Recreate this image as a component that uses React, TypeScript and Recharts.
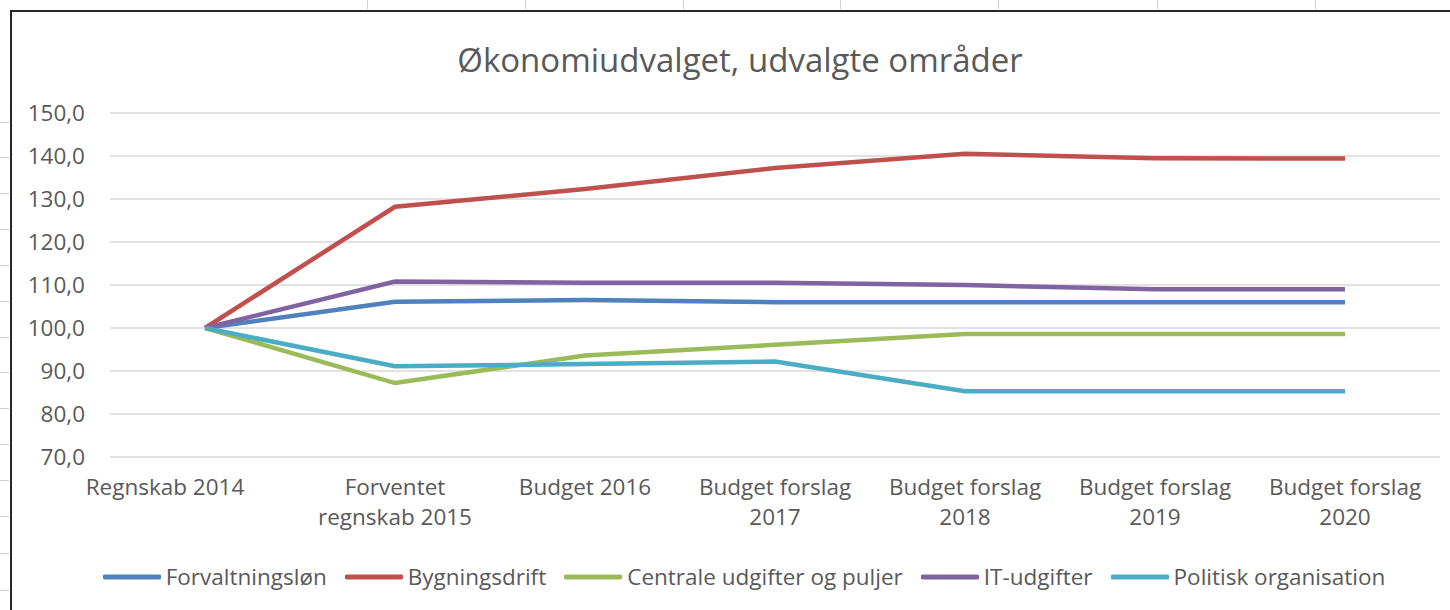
import React from 'react';
import { LineChart, Line, XAxis, YAxis, CartesianGrid, Legend } from 'recharts';

const categories = [
  'Regnskab 2014',
  'Forventet\nregnskab 2015',
  'Budget 2016',
  'Budget forslag\n2017',
  'Budget forslag\n2018',
  'Budget forslag\n2019',
  'Budget forslag\n2020',
];

const forvaltningslon = [100, 106.1, 106.5, 106.0, 106.0, 106.0, 106.0];
const bygningsdrift = [100, 128.2, 132.3, 137.2, 140.5, 139.5, 139.4];
const centrale = [100, 87.2, 93.6, 96.1, 98.6, 98.6, 98.6];
const itUdgifter = [100, 110.8, 110.5, 110.5, 110.0, 109.0, 109.0];
const politisk = [100, 91.1, 91.6, 92.2, 85.3, 85.3, 85.3];

const yTicks = [70, 80, 90, 100, 110, 120, 130, 140, 150];

const seriesNames = [
  'Forvaltningsløn',
  'Bygningsdrift',
  'Centrale udgifter og puljer',
  'IT-udgifter',
  'Politisk organisation',
];
const seriesKeys = ['forv', 'byg', 'cen', 'it', 'pol'];
const seriesColors = ['#4F81BD', '#C0504D', '#9BBB59', '#8064A2', '#4BACC6'];
const seriesValues = [forvaltningslon, bygningsdrift, centrale, itUdgifter, politisk];

const data = categories.map((c, i) => {
  const row: Record<string, string | number> = { cat: c };
  seriesKeys.forEach((k, j) => {
    row[k] = seriesValues[j][i];
  });
  return row;
});

const FONT = '"Open Sans", "Noto Sans", sans-serif';
const TEXT_COLOR = '#595959';
const FS = 22.5;

const XTick = (props: any) => {
  const { x, y, payload, index } = props;
  const lines = String(payload.value).split('\n');
  const cx = index === 0 ? x - 40 : x;
  return (
    <text x={cx} y={y} textAnchor="middle" fill={TEXT_COLOR} fontFamily={FONT} fontSize={FS}>
      {lines.map((l, i) => (
        <tspan key={i} x={cx} dy={i === 0 ? 29.5 : 30}>
          {l}
        </tspan>
      ))}
    </text>
  );
};

const LegendContent = () => (
  <div
    style={{
      display: 'flex',
      justifyContent: 'center',
      alignItems: 'center',
      fontFamily: FONT,
      fontSize: FS,
      color: TEXT_COLOR,
      paddingLeft: 26,
      whiteSpace: 'nowrap',
    }}
  >
    {seriesNames.map((n, i) => (
      <div key={n} style={{ display: 'flex', alignItems: 'center', marginRight: i < seriesNames.length - 1 ? 18 : 0 }}>
        <svg width={58} height={10} style={{ marginRight: 5 }}>
          <line x1={2} y1={5} x2={56} y2={5} stroke={seriesColors[i]} strokeWidth={5} strokeLinecap="round" />
        </svg>
        <span>{n}</span>
      </div>
    ))}
  </div>
);

const topMarks = [367, 525, 683, 840, 998, 1157, 1315];
const leftMarks = [122, 157, 193, 229, 265, 301, 337, 372, 408, 444, 480, 516, 553, 590];

export default function App() {
  return (
    <div
      style={{
        position: 'absolute',
        left: 0,
        top: 0,
        width: 1450,
        height: 610,
        background: '#fff',
        overflow: 'hidden',
      }}
    >
      {topMarks.map((x) => (
        <div key={'t' + x} style={{ position: 'absolute', left: x, top: 0, width: 1, height: 9, background: '#d0d0d0' }} />
      ))}
      {leftMarks.map((y) => (
        <div key={'l' + y} style={{ position: 'absolute', left: 0, top: y, width: 9, height: 1, background: '#d0d0d0' }} />
      ))}
      <div
        style={{
          position: 'absolute',
          left: 10,
          top: 10,
          width: 1450,
          height: 610,
          borderLeft: '2px solid #262626',
          borderTop: '2px solid #262626',
        }}
      />
      <div
        style={{
          position: 'absolute',
          left: 12,
          top: 40,
          width: 1438,
          textAlign: 'center',
          paddingLeft: 18,
          boxSizing: 'border-box',
          fontFamily: FONT,
          fontSize: 33,
          color: TEXT_COLOR,
          lineHeight: '40px',
          whiteSpace: 'nowrap',
        }}
      >
        Økonomiudvalget, udvalgte områder
      </div>
      <div style={{ position: 'absolute', left: 12, top: 12 }}>
        <LineChart
          width={1438}
          height={598}
          data={data}
          margin={{ top: 101, right: 10, bottom: 93, left: 18 }}
        >
          <CartesianGrid vertical={false} stroke="#d9d9d9" strokeWidth={1.5} />
          <XAxis
            dataKey="cat"
            axisLine={false}
            tickLine={false}
            interval={0}
            height={60}
            padding={{ left: 95, right: 95 }}
            tick={<XTick />}
          />
          <YAxis
            domain={[70, 150]}
            ticks={yTicks}
            axisLine={false}
            tickLine={false}
            tickSize={0}
            tickMargin={25}
            width={80}
            tickFormatter={(v: number) => v.toFixed(1).replace('.', ',')}
            tick={{ fill: TEXT_COLOR, fontFamily: FONT, fontSize: FS }}
          />
          {seriesKeys.map((k, i) => (
            <Line
              key={k}
              type="linear"
              dataKey={k}
              name={seriesNames[i]}
              stroke={seriesColors[i]}
              strokeWidth={4.5}
              dot={false}
              activeDot={false}
              isAnimationActive={false}
            />
          ))}
          <Legend
            layout="horizontal"
            verticalAlign="middle"
            align="center"
            wrapperStyle={{ top: 549, left: 0, width: 1438 }}
            content={<LegendContent />}
          />
        </LineChart>
      </div>
    </div>
  );
}
